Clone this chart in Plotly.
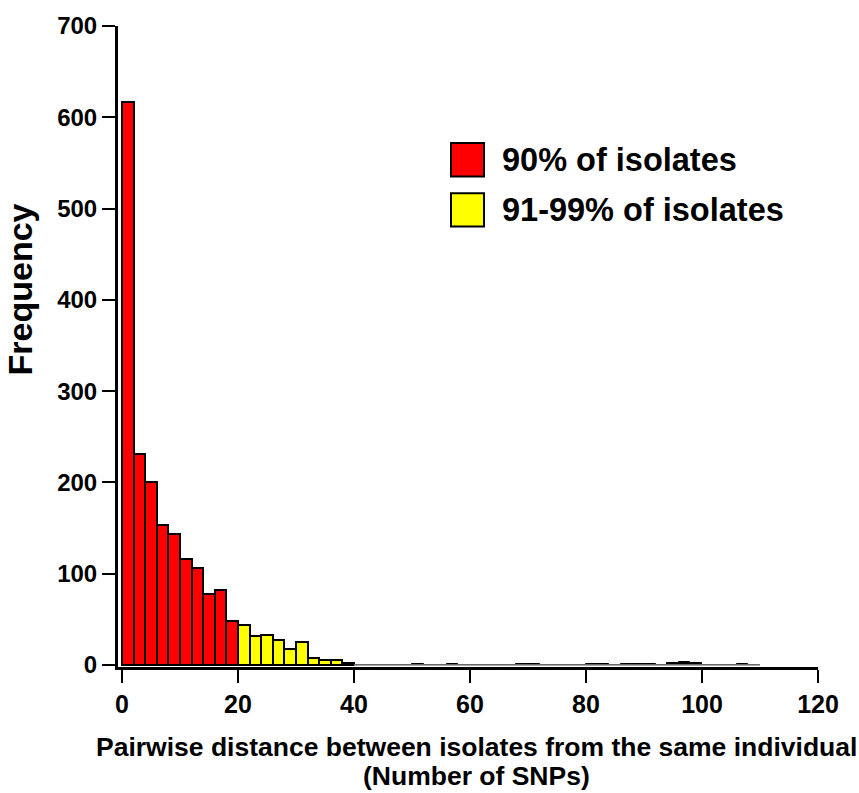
import plotly.graph_objects as go

# Histogram of pairwise SNP distances, 2-SNP bins
BIN_WIDTH = 2

# 0-20 SNPs: 90% of isolates
red_start = 0
red_counts = [617, 231, 200, 153, 143, 116, 106, 78, 82, 48]

# 20-40 SNPs: 91-99% of isolates
yellow_start = 20
yellow_counts = [44, 32, 33, 27, 18, 25, 8, 6, 5, 2]

# 40-110 SNPs: remaining tail
tail_start = 40
tail_counts = [0, 0, 0, 0, 0, 1, 0, 0, 1, 0,
               0, 0, 0, 0, 1, 1, 0, 0, 0, 0,
               1, 1, 0, 1, 1, 1, 0, 2, 3, 2,
               0, 0, 0, 1, 0]

x_ticks = [0, 20, 40, 60, 80, 100, 120]
y_ticks = [0, 100, 200, 300, 400, 500, 600, 700]

legend_labels = ["90% of isolates", "91-99% of isolates"]
x_title_lines = ["Pairwise distance between isolates from the same individual",
                 "(Number of SNPs)"]
y_title = "Frequency"


def centers(start, counts):
    return [start + BIN_WIDTH * (i + 0.5) for i in range(len(counts))]


W, H = 859, 793
ML, MR, MT, MB = 118, 41, 15, 126
PW, PH = W - ML - MR, H - MT - MB


def px(x):
    return (x - ML) / PW


def py(y):
    return 1 - (y - MT) / PH


FONT = "Liberation Sans"

fig = go.Figure()

fig.add_trace(go.Bar(
    x=centers(red_start, red_counts), y=red_counts, width=BIN_WIDTH,
    marker=dict(color="#ff0000", line=dict(color="black", width=2)),
    showlegend=False,
))
fig.add_trace(go.Bar(
    x=centers(yellow_start, yellow_counts), y=yellow_counts, width=BIN_WIDTH,
    marker=dict(color="#ffff00", line=dict(color="black", width=2)),
    showlegend=False,
))
fig.add_trace(go.Bar(
    x=centers(tail_start, tail_counts), y=tail_counts, width=BIN_WIDTH,
    marker=dict(color="black", line=dict(color="black", width=1)),
    showlegend=False,
))
# baseline under the sparse tail bins
tail_end = tail_start + BIN_WIDTH * len(tail_counts)
fig.add_trace(go.Scatter(
    x=[tail_start, tail_end], y=[0, 0], mode="lines",
    line=dict(color="#8a8a8a", width=1.5), showlegend=False, hoverinfo="skip",
))

fig.update_layout(
    width=W, height=H,
    margin=dict(l=ML, r=MR, t=MT, b=MB),
    paper_bgcolor="white", plot_bgcolor="white",
    bargap=0,
    barmode="overlay",
    font=dict(family=FONT, color="black", weight="bold"),
    xaxis=dict(
        range=[-0.69, 120], tickvals=x_ticks, ticktext=[str(v) for v in x_ticks],
        showgrid=False, zeroline=False, showline=True, linecolor="black", linewidth=3,
        ticks="outside", ticklen=13, tickwidth=2, tickcolor="black",
        tickfont=dict(size=25, family=FONT, weight="bold"),
    ),
    yaxis=dict(
        range=[-2.15, 700], tickvals=y_ticks, ticktext=[str(v) for v in y_ticks],
        showgrid=False, zeroline=False, showline=True, linecolor="black", linewidth=3,
        ticks="outside", ticklen=13, tickwidth=2, tickcolor="black",
        tickfont=dict(size=24, family=FONT, weight="bold"),
    ),
)

annotations = [
    dict(text=y_title, textangle=-90, x=px(20), y=py(283),
         xref="paper", yref="paper", xanchor="center", yanchor="middle",
         showarrow=False, font=dict(size=34, family=FONT, weight="bold")),
]
for line, yc in zip(x_title_lines, [748, 778]):
    annotations.append(dict(text=line, x=px(476), y=py(yc), xref="paper", yref="paper",
                            xanchor="center", yanchor="middle", showarrow=False,
                            font=dict(size=26.5, family=FONT, weight="bold")))

shapes = []
legend_colors = ["#ff0000", "#ffff00"]
row_y = [151, 202]
for label, color, yc in zip(legend_labels, legend_colors, row_y):
    shapes.append(dict(type="rect", xref="paper", yref="paper",
                       x0=px(451), x1=px(484), y0=py(yc + 17), y1=py(yc - 17),
                       fillcolor=color, line=dict(color="black", width=2)))
    annotations.append(dict(text=label, x=px(500), y=py(yc), xref="paper", yref="paper",
                            xanchor="left", yanchor="middle", showarrow=False,
                            font=dict(size=32.5, family=FONT, weight="bold")))

fig.update_layout(annotations=annotations, shapes=shapes)

fig.write_html("out.html")
